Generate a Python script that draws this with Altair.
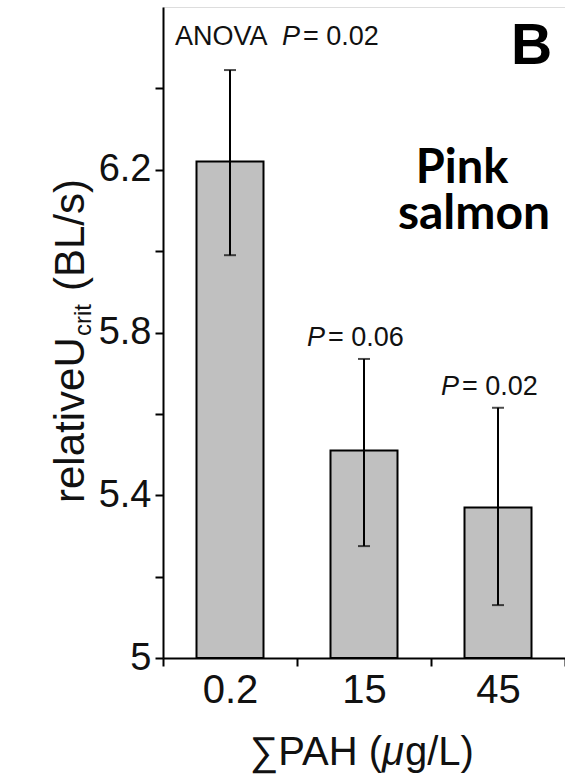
import altair as alt
import pandas as pd

# ---- data ----
categories = ["0.2", "15", "45"]
means = [6.22, 5.51, 5.37]
lower = [5.99, 5.275, 5.13]
upper = [6.445, 5.735, 5.615]
p_values = ["", "0.06", "0.02"]
y_ticks = [5.0, 5.2, 5.4, 5.6, 5.8, 6.0, 6.2, 6.4]
y_min, y_max = 5.0, 6.6

df = pd.DataFrame({"pah": categories, "mean": means, "lo": lower, "hi": upper, "p": p_values})
pdf = df[df["p"] != ""]
one = pd.DataFrame({"k": [0]})

FONT = "Liberation Sans"
INK = "#111111"
W, H = 402, 651

xenc = alt.X("pah:N", sort=categories, title=None,
             scale=alt.Scale(paddingInner=0, paddingOuter=0),
             axis=alt.Axis(labelAngle=0, labelFont=FONT, labelFontSize=40, labelColor=INK,
                           labelPadding=4, tickBand="extent", tickSize=8, tickWidth=2,
                           tickColor="black", domainColor="black", domainWidth=2))
yscale = alt.Scale(domain=[y_min, y_max], nice=False, zero=False)
yenc = alt.Y("mean:Q", scale=yscale, title=None,
             axis=alt.Axis(values=y_ticks, grid=False, labelFont=FONT, labelFontSize=38,
                           labelColor=INK, labelPadding=4, tickSize=8, tickWidth=2,
                           tickColor="black", domainColor="black", domainWidth=2,
                           labelExpr="round((datum.value-5)*5) % 2 == 0 ? format(datum.value, '.1~f') : ''"))

bars = alt.Chart(df).mark_bar(fill="#c0c0c0", stroke="black", strokeWidth=2,
                              width=alt.RelativeBandSize(0.5)).encode(
    x=xenc, y=yenc, y2=alt.datum(y_min))
err = alt.Chart(df).mark_rule(color="black", strokeWidth=2).encode(
    x=alt.X("pah:N", sort=categories), y=alt.Y("lo:Q", scale=yscale), y2="hi:Q")
cap_hi = alt.Chart(df).mark_tick(color="black", thickness=2, size=12).encode(
    x=alt.X("pah:N", sort=categories), y=alt.Y("hi:Q", scale=yscale))
cap_lo = alt.Chart(df).mark_tick(color="black", thickness=2, size=12).encode(
    x=alt.X("pah:N", sort=categories), y=alt.Y("lo:Q", scale=yscale))

p_ital = alt.Chart(pdf).mark_text(text="P", font=FONT, fontSize=27, fontStyle="italic",
                                  align="left", baseline="alphabetic", dx=-57, dy=-13,
                                  color=INK).encode(
    x=alt.X("pah:N", sort=categories), y=alt.Y("hi:Q", scale=yscale))
p_val = alt.Chart(pdf).mark_text(font=FONT, fontSize=27, align="left", baseline="alphabetic",
                                 dx=-36, dy=-13, color=INK).encode(
    x=alt.X("pah:N", sort=categories), y=alt.Y("hi:Q", scale=yscale),
    text=alt.Text("plabel:N")).transform_calculate(plabel="'= ' + datum.p")


def txt(s, x, y, size, weight="normal", style="normal", align="left", angle=0, font=FONT,
        color=INK):
    kw = dict(text=s, font=font, fontSize=size, fontWeight=weight, fontStyle=style,
              align=align, baseline="alphabetic", color=color)
    if angle:
        kw["angle"] = angle
    return alt.Chart(one).mark_text(**kw).encode(x=alt.value(x), y=alt.value(y))


anova = [txt("ANOVA", 12, 38, 27), txt("P", 119, 38, 27, style="italic"),
         txt("= 0.02", 140, 38, 27)]
panel = [txt("B", 348, 57, 57, weight="bold", font="Liberation Sans", color="black"),
         txt("Pink", 299, 176, 47, weight="bold", align="center", font="Lato", color="black"),
         txt("salmon", 311, 222, 48, weight="bold", align="center", font="Lato", color="black")]
xtitle = [txt("\u2211PAH (", 219, 758, 40, align="right"),
          txt("\u03bc", 219, 758, 40, style="italic"),
          txt("g/L)", 242, 758, 40)]
ytitle = [txt("relativeU", -79, 496, 42, angle=270),
          txt("crit", -72, 329, 24, angle=270),
          txt("(BL/s)", -79, 284, 42, angle=270)]

chart = alt.layer(bars, err, cap_hi, cap_lo, p_ital, p_val, *anova, *panel, *xtitle, *ytitle
                  ).properties(
    width=W, height=H,
    autosize=alt.AutoSizeParams(type="none"),
    padding={"left": 163, "top": 7, "right": 0, "bottom": 118},
).configure_view(stroke=None).configure(background="white")

chart.save("out.html", embed_options={"renderer": "svg", "actions": False})
